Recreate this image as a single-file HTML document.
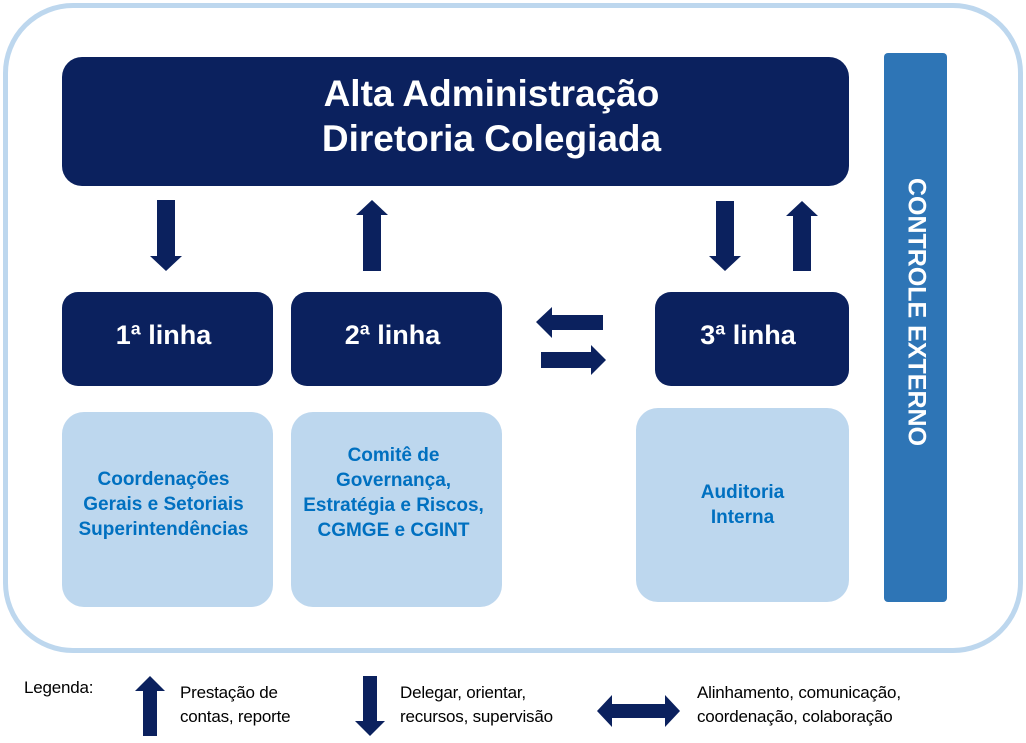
<!DOCTYPE html>
<html><head><meta charset="utf-8"><style>
body{margin:0;width:1026px;height:743px;background:#fff;position:relative;font-family:"Liberation Sans",sans-serif;overflow:hidden}
.a{position:absolute;box-sizing:border-box}
.d{background:#0b215e;color:#fff;font-weight:bold;border-radius:16px;display:flex;align-items:center;justify-content:center;text-align:center}
.l{background:#bdd7ee;color:#0070c0;font-weight:bold;border-radius:22px;display:flex;align-items:center;justify-content:center;text-align:center;font-size:19px;line-height:25px}
.t{position:absolute;font-size:17px;line-height:24px;color:#000;letter-spacing:-0.2px}
</style></head><body>
<div class="a" style="left:3px;top:3px;width:1020px;height:650px;border:5px solid #bdd7ee;border-radius:70px"></div>
<div class="a d" style="left:62px;top:57px;width:787px;height:129px;font-size:37px;line-height:45px;border-radius:20px;padding-left:72px;padding-bottom:12px">Alta Administração<br>Diretoria Colegiada</div>
<div class="a" style="left:884px;top:53px;width:63px;height:549px;background:#2e75b6;border-radius:4px"></div>
<div class="a" style="left:916px;top:312px;transform:translate(-50%,-50%) rotate(90deg);white-space:nowrap;color:#fff;font-weight:bold;font-size:25px">CONTROLE EXTERNO</div>
<div class="a d" style="left:62px;top:292px;width:211px;height:94px;font-size:27px;padding-bottom:8px;padding-right:8px">1ª linha</div>
<div class="a d" style="left:291px;top:292px;width:211px;height:94px;font-size:27px;padding-bottom:8px;padding-right:8px">2ª linha</div>
<div class="a d" style="left:655px;top:292px;width:194px;height:94px;font-size:27px;padding-bottom:8px;padding-right:8px">3ª linha</div>
<div class="a l" style="left:62px;top:412px;width:211px;height:195px;padding-bottom:10px;padding-right:8px">Coordenações<br>Gerais e Setoriais<br>Superintendências</div>
<div class="a l" style="left:291px;top:412px;width:211px;height:195px;padding-bottom:34px;padding-right:6px">Comitê de<br>Governança,<br>Estratégia e Riscos,<br>CGMGE e CGINT</div>
<div class="a l" style="left:636px;top:408px;width:213px;height:194px">Auditoria<br>Interna</div>
<svg class="a" style="left:0;top:0" width="1026" height="743" fill="#0b215e">
<polygon points="157,200 175,200 175,256 182,256 166,271 150,256 157,256"/>
<polygon points="363,271 381,271 381,215 388,215 372,200 356,215 363,215"/>
<polygon points="716,201 734,201 734,256 741,256 725,271 709,256 716,256"/>
<polygon points="793,271 811,271 811,216 818,216 802,201 786,216 793,216"/>
<polygon points="603,315 603,330 552,330 552,338 536,322 552,307 552,315"/>
<polygon points="541,352 541,368 591,368 591,375 606,360 591,345 591,352"/>
<polygon points="143,736 157,736 157,691 165,691 150,676 135,691 143,691"/>
<polygon points="363,676 377,676 377,721 385,721 370,736 355,721 363,721"/>
<polygon points="597,711 612,695 612,704 665,704 665,695 680,711 665,727 665,718 612,718 612,727"/>
</svg>
<div class="t" style="left:24px;top:676px">Legenda:</div>
<div class="t" style="left:180px;top:681px">Prestação de<br>contas, reporte</div>
<div class="t" style="left:400px;top:681px">Delegar, orientar,<br>recursos, supervisão</div>
<div class="t" style="left:697px;top:681px">Alinhamento, comunicação,<br>coordenação, colaboração</div>
</body></html>
